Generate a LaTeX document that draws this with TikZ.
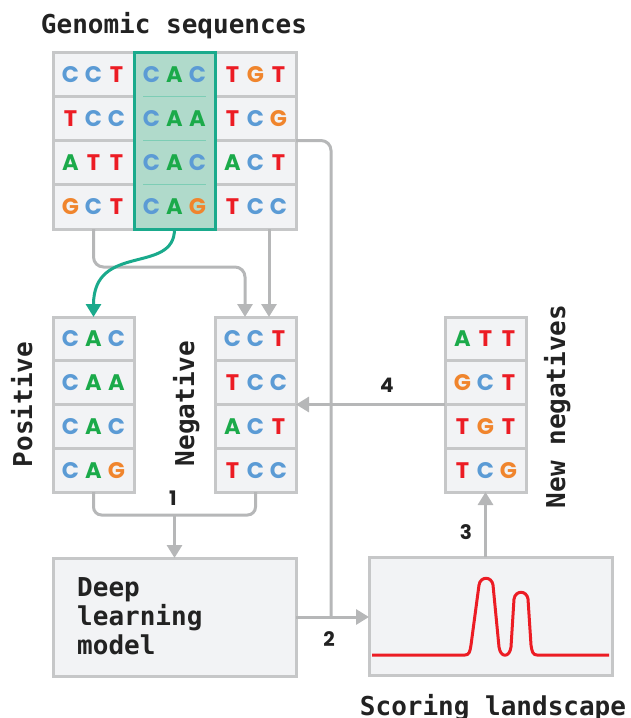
\documentclass[tikz,border=0pt]{standalone}
\usepackage{fontspec}
\usetikzlibrary{arrows.meta,calc}
\newfontfamily\basefont{Poppins}
\newfontfamily\monofont{DejaVu Sans Mono}
\definecolor{gridgray}{HTML}{C6C7C8}
\definecolor{cellfill}{HTML}{F2F3F5}
\definecolor{tealfill}{HTML}{B0DACB}
\definecolor{tealline}{HTML}{1AAA8C}
\definecolor{tealsep}{HTML}{7DCDB5}
\definecolor{arrgray}{HTML}{B6B7B8}
\definecolor{bC}{HTML}{5B9BD5}
\definecolor{bA}{HTML}{1BAA4A}
\definecolor{bT}{HTML}{EC1C24}
\definecolor{bG}{HTML}{F0852D}
\definecolor{peakred}{HTML}{EC1C24}
\definecolor{txt}{HTML}{222222}
\newcommand\bsA{\makebox[23pt]{\textcolor{bA}{A}}}
\newcommand\bsC{\makebox[23pt]{\textcolor{bC}{C}}}
\newcommand\bsG{\makebox[23pt]{\textcolor{bG}{G}}}
\newcommand\bsT{\makebox[23pt]{\textcolor{bT}{T}}}
\tikzset{
  cell/.style={draw=gridgray, line width=3pt, fill=cellfill, minimum width=81pt,
    minimum height=44.25pt, inner sep=0pt, outer sep=0pt,
    font=\basefont\bfseries\fontsize{22.5}{22.5}\selectfont},
  scell/.style={cell, minimum height=43.75pt},
  tcell/.style={cell, draw=none, fill=none},
  conn/.style={draw=arrgray, line width=3pt},
  arrowend/.style={-{Triangle[length=13pt,width=15pt]}},
  bigbox/.style={draw=gridgray, line width=3pt, fill=cellfill, inner sep=0pt, outer sep=0pt},
  monolabel/.style={font=\monofont\bfseries\fontsize{26}{29}\selectfont, text=txt, inner sep=0pt},
  numlabel/.style={font=\basefont\bfseries\fontsize{20}{20}\selectfont, text=txt, inner sep=0pt},
}
\begin{document}
\begin{tikzpicture}[x=1pt,y=-1pt]
\useasboundingbox (0,0) rectangle (631,718);
% title
\node[monolabel, anchor=base] (title) at (174,33) {Genomic sequences};
% genomic grid: left and right columns
\node[cell] (g11) at (93.5,74.125) {\bsC\bsC\bsT};
\node[cell] (g21) at (93.5,118.375) {\bsT\bsC\bsC};
\node[cell] (g31) at (93.5,162.625) {\bsA\bsT\bsT};
\node[cell] (g41) at (93.5,206.875) {\bsG\bsC\bsT};
\node[cell] (g13) at (255.5,74.125) {\bsT\bsG\bsT};
\node[cell] (g23) at (255.5,118.375) {\bsT\bsC\bsG};
\node[cell] (g33) at (255.5,162.625) {\bsA\bsC\bsT};
\node[cell] (g43) at (255.5,206.875) {\bsT\bsC\bsC};
% highlighted column
\node[draw=tealline, fill=tealfill, line width=3pt, minimum width=81pt, minimum height=177pt, inner sep=0pt, outer sep=0pt] (hl) at (174.5,140.5) {};
\draw[tealsep, line width=1pt] (143,96.25) -- (206,96.25);
\draw[tealsep, line width=1pt] (143,140.5) -- (206,140.5);
\draw[tealsep, line width=1pt] (143,184.75) -- (206,184.75);
\node[tcell] (g12) at (174.5,74.125) {\bsC\bsA\bsC};
\node[tcell] (g22) at (174.5,118.375) {\bsC\bsA\bsA};
\node[tcell] (g32) at (174.5,162.625) {\bsC\bsA\bsC};
\node[tcell] (g42) at (174.5,206.875) {\bsC\bsA\bsG};
% positive
\node[scell] (pos1) at (93.5,338.875) {\bsC\bsA\bsC};
\node[scell] (pos2) at (93.5,382.625) {\bsC\bsA\bsA};
\node[scell] (pos3) at (93.5,426.375) {\bsC\bsA\bsC};
\node[scell] (pos4) at (93.5,470.125) {\bsC\bsA\bsG};
% negative
\node[scell] (neg1) at (255.5,338.875) {\bsC\bsC\bsT};
\node[scell] (neg2) at (255.5,382.625) {\bsT\bsC\bsC};
\node[scell] (neg3) at (255.5,426.375) {\bsA\bsC\bsT};
\node[scell] (neg4) at (255.5,470.125) {\bsT\bsC\bsC};
% new negatives
\node[scell] (nn1) at (485.5,338.875) {\bsA\bsT\bsT};
\node[scell] (nn2) at (485.5,382.625) {\bsG\bsC\bsT};
\node[scell] (nn3) at (485.5,426.375) {\bsT\bsG\bsT};
\node[scell] (nn4) at (485.5,470.125) {\bsT\bsC\bsG};
% vertical labels
\node[monolabel, rotate=90, anchor=base] (poslab) at (32,404.5) {Positive};
\node[monolabel, rotate=90, anchor=base] (neglab) at (194,403.5) {Negative};
\node[monolabel, rotate=90, anchor=base] (nnlab) at (565,406.5) {New negatives};
% model and scoring boxes
\node[bigbox, minimum width=243pt, minimum height=118pt] (dl) at (174.5,617) {};
\node[monolabel, align=left, anchor=north west] (dltext) at (77,577) {Deep\\learning\\model};
\node[bigbox, minimum width=243pt, minimum height=118pt] (sc) at (490.5,616) {};
\node[monolabel, anchor=base] (sclab) at (493,715) {Scoring landscape};
% peaks
\draw[peakred, line width=3pt, line join=round]
  ($(sc.west)+(3,39)$) -- (465,655) .. controls (469,655) and (470,652) .. (471,645)
  -- (479,585) .. controls (480.5,576) and (491.5,576) .. (493,585)
  -- (499,647) .. controls (500.5,658) and (509.5,658) .. (511,647)
  -- (514,599) .. controls (515.5,590) and (526.5,590) .. (528,599)
  -- (531,645) .. controls (532,652) and (533,655) .. (537,655)
  -- ($(sc.east)+(-3,39)$);
% connectors from genomic grid
\draw[conn, arrowend, rounded corners=10pt] (g41.south) -- ($(g41.south)+(0,38)$) -| ([xshift=-10.5pt]neg1.north);
\draw[conn, arrowend] ([xshift=13.5pt]g43.south) -- ([xshift=13.5pt]neg1.north);
\draw[tealline, line width=3pt, -{Triangle[length=13pt,width=15pt]}]
  (hl.south) .. controls ($(hl.south)+(0,46)$) and ($(pos1.north)+(0,-75)$) .. (pos1.north);
% step 1
\coordinate (b1) at (174.5,515);
\draw[conn, rounded corners=8pt] (pos4.south) |- (b1) -| (neg4.south);
\draw[conn, arrowend] (b1) -- (dl.north);
\node[numlabel] (n1) at (173,498) {1};
% step 2
\coordinate (j2) at (331,617);
\draw[conn, rounded corners=10pt] (g23.south east) -| (j2);
\draw[conn, arrowend] (dl.east) -- (sc.west |- dl.east);
\node[numlabel] (n2) at (329,639) {2};
% step 3
\draw[conn, arrowend] (nn4.south |- sc.north) -- (nn4.south);
\node[numlabel] (n3) at (466,532) {3};
% step 4
\draw[conn, arrowend] (nn3.north west) -- (nn3.north west -| neg3.east);
\node[numlabel] (n4) at (387,385) {4};
\end{tikzpicture}
\end{document}
